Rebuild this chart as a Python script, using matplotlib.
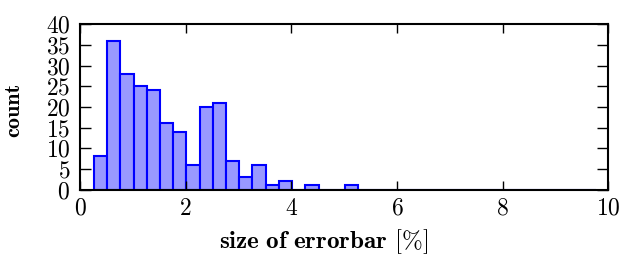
import numpy as np
import matplotlib
matplotlib.use("Agg")
import matplotlib.pyplot as plt

# Data
bin_start = 0.265
bin_width = 0.25
counts = [8, 36, 28, 25, 24, 16, 14, 6, 20, 21, 7, 3, 6, 1, 2, 0, 1, 0, 0, 1,
          0, 0, 0, 0, 0, 0, 0, 0, 0, 0, 0, 0, 0, 0, 0, 0, 0, 0]
x_ticks = [0, 2, 4, 6, 8, 10]
y_ticks = [0, 5, 10, 15, 20, 25, 30, 35, 40]

edges = bin_start + bin_width * np.arange(len(counts) + 1)
centers = 0.5 * (edges[:-1] + edges[1:])

plt.rcParams['font.family'] = ['cmr10', 'DejaVu Sans']
plt.rcParams['mathtext.fontset'] = 'cm'
plt.rcParams['axes.formatter.use_mathtext'] = True

fig = plt.figure(figsize=(6.22, 2.57), dpi=100)
ax = fig.add_axes([0.1286, 0.2626, 0.978 - 0.1286, 0.9054 - 0.2626])

ax.hist(centers, bins=edges, weights=counts, histtype='bar',
        facecolor=(0.6, 0.6, 1.0), edgecolor='blue', linewidth=1.5)

ax.set_xlim(0, 10)
ax.set_ylim(0, 40)
ax.set_xticks(x_ticks)
ax.set_yticks(y_ticks)
ax.tick_params(direction='in', top=True, right=True, labelsize=17, width=1.0)
ax.tick_params(axis='x', length=6.5, pad=6)
ax.tick_params(axis='y', length=8, pad=7)
for s in ax.spines.values():
    s.set_linewidth(1.5)

ax.set_xlabel(r'$\mathbf{size\ of\ errorbar}$ [%]', fontsize=18)
ax.set_ylabel('count', fontsize=16, fontfamily='cmb10')
ax.xaxis.set_label_coords(0.462, -0.23)
ax.yaxis.set_label_coords(-0.108, 0.48)

fig.savefig('out.png', dpi=100)
